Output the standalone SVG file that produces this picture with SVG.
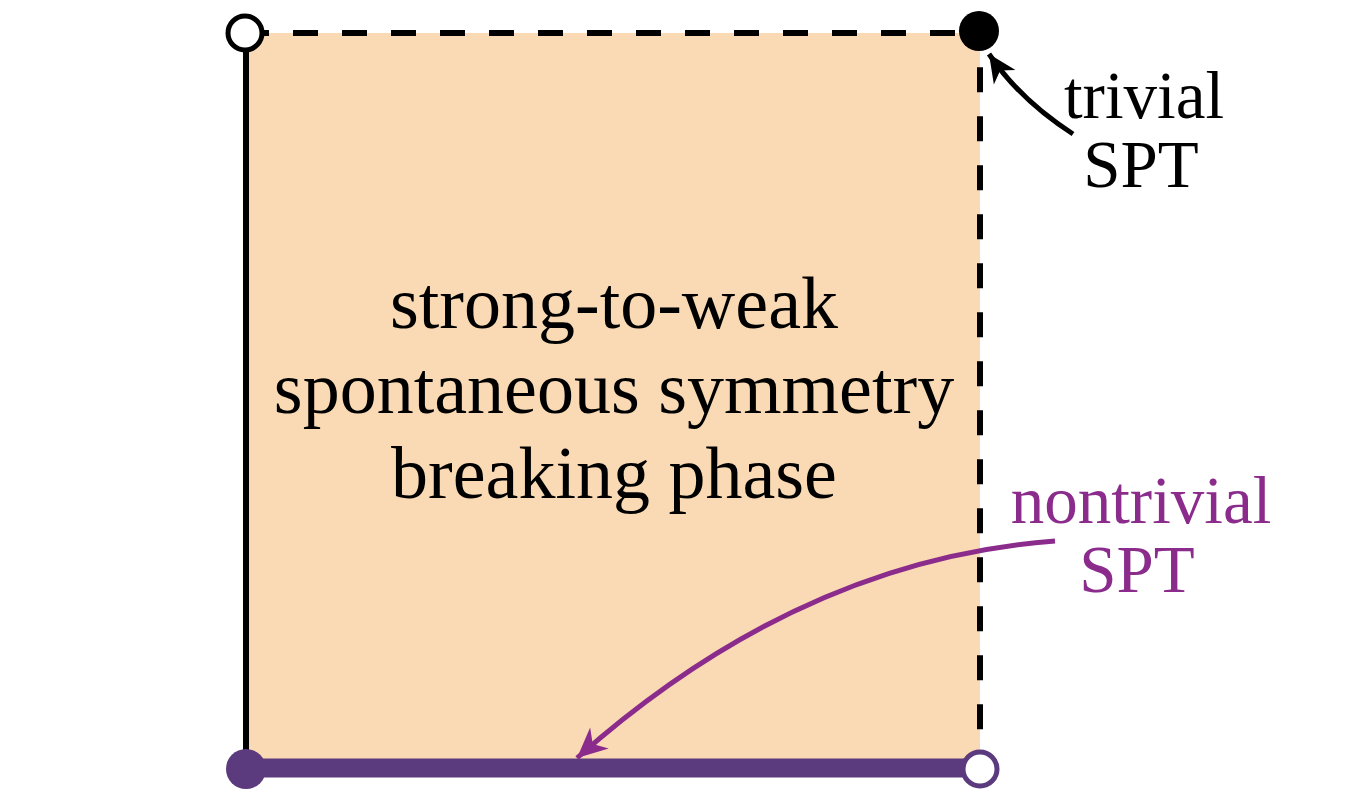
<svg xmlns="http://www.w3.org/2000/svg" width="1360" height="800" viewBox="0 0 1360 800">
  <style>
    .lbl { font-family: "Liberation Serif", "Times New Roman", serif; text-anchor: middle; }
    .main { font-size: 74px; fill: #000; }
    .side { font-size: 67px; }
    .edge { fill: none; stroke-width: 6; }
    .dash { stroke: #000; stroke-dasharray: 25 24; }
  </style>
  <defs>
    <marker id="ahK" markerUnits="userSpaceOnUse" markerWidth="44" markerHeight="44" viewBox="-34 -22 44 44" refX="0" refY="0" orient="auto">
      <path d="M0,0 L-28,-13 L-20,0 L-28,13 Z" fill="#000"/>
    </marker>
    <marker id="ahP" markerUnits="userSpaceOnUse" markerWidth="44" markerHeight="44" viewBox="-34 -22 44 44" refX="0" refY="0" orient="auto">
      <path d="M0,0 L-30,-14 L-21,0 L-30,14 Z" fill="#8B2C8C"/>
    </marker>
  </defs>
  <rect width="1360" height="800" fill="#fff"/>

  <g id="phase">
    <rect x="246" y="33" width="734" height="735" fill="#F9DAB4"/>
    <text class="lbl main" x="614" y="328">strong-to-weak</text>
    <text class="lbl main" x="614" y="413">spontaneous symmetry</text>
    <text class="lbl main" x="614" y="498">breaking phase</text>
  </g>

  <g id="connectors">
    <line class="edge" x1="246" y1="33" x2="246" y2="768" stroke="#000"/>
    <line class="edge dash" x1="244" y1="33" x2="980" y2="33"/>
    <line class="edge dash" x1="980" y1="18.3" x2="980" y2="768"/>
    <line x1="246" y1="768" x2="980" y2="768" stroke="#5C3A7E" stroke-width="19"/>
    <path d="M1073,134 Q1020,100 989,54" fill="none" stroke="#000" stroke-width="5" marker-end="url(#ahK)"/>
    <path d="M1055,541 Q800,560 577,758" fill="none" stroke="#8B2C8C" stroke-width="5" marker-end="url(#ahP)"/>
  </g>

  <g id="node-top-left">
    <circle cx="245" cy="33" r="17" fill="#fff" stroke="#000" stroke-width="5"/>
  </g>
  <g id="node-top-right">
    <circle cx="979" cy="31" r="20" fill="#000"/>
  </g>
  <g id="node-bottom-left">
    <circle cx="246" cy="769" r="20" fill="#5C3A7E"/>
  </g>
  <g id="node-bottom-right">
    <circle cx="980" cy="769" r="17" fill="#fff" stroke="#5C3A7E" stroke-width="5"/>
  </g>

  <g id="label-trivial">
    <text class="lbl side" x="1144" y="118" fill="#000">trivial</text>
    <text class="lbl side" x="1141" y="187" fill="#000">SPT</text>
  </g>
  <g id="label-nontrivial">
    <text class="lbl side" x="1141" y="523" fill="#8B2C8C">nontrivial</text>
    <text class="lbl side" x="1137" y="592" fill="#8B2C8C">SPT</text>
  </g>
</svg>
